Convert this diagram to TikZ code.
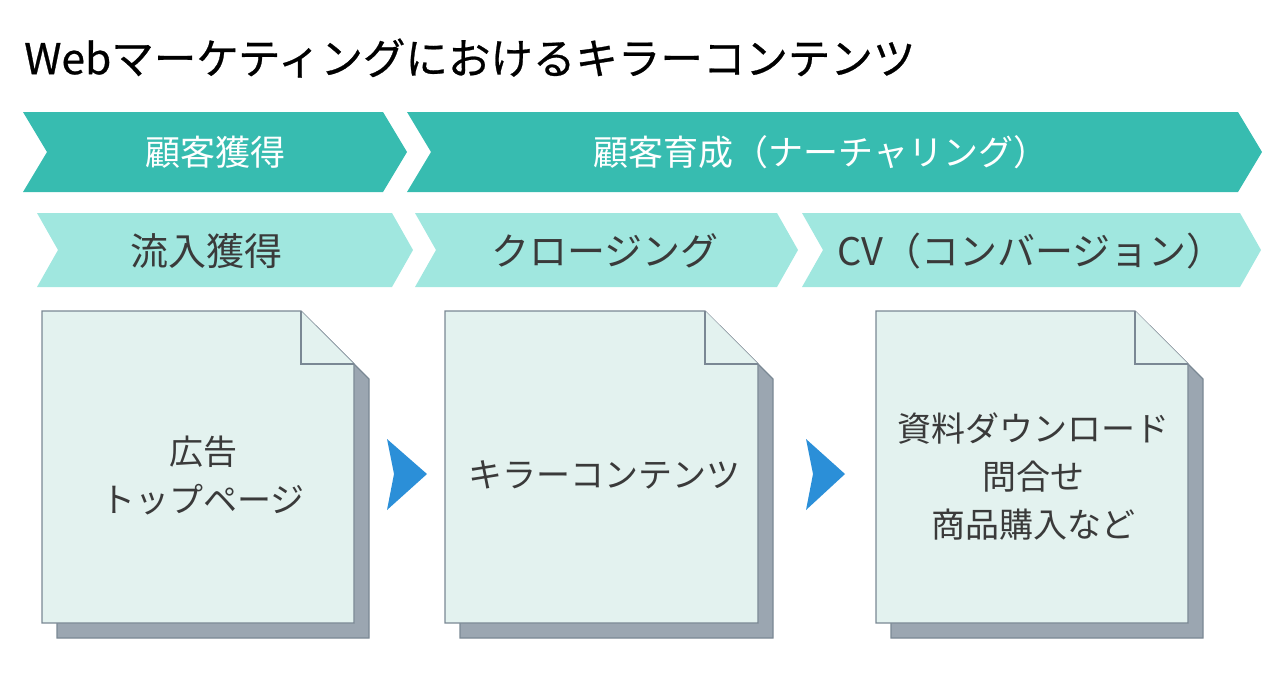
\documentclass[tikz,border=0pt]{standalone}
\usepackage{fontspec}
\newfontfamily\jp{Noto Sans CJK JP}
\newfontfamily\jpbold[FakeBold=0.6]{Noto Sans CJK JP}
\definecolor{darkteal}{HTML}{37BCB0}
\definecolor{lightteal}{HTML}{A0E7DF}
\definecolor{docfill}{HTML}{E3F2EF}
\definecolor{docline}{HTML}{7A8894}
\definecolor{shadowfill}{HTML}{9BA6B1}
\definecolor{arrowblue}{HTML}{2B8FD8}
\definecolor{txtgray}{HTML}{3A3A3A}
\tikzset{
  chevtop/.style={fill=darkteal},
  chevmid/.style={fill=lightteal},
  toplabel/.style={font=\jp\fontsize{35}{40}\selectfont, text=white, inner sep=0pt},
  midlabel/.style={font=\jp\fontsize{38}{44}\selectfont, text=txtgray, inner sep=0pt},
  doclabel/.style={font=\jp\fontsize{34}{48}\selectfont, text=txtgray, inner sep=0pt, align=center},
  docbody/.style={fill=docfill, draw=docline, line width=1.3pt, line join=miter},
  docshadow/.style={fill=shadowfill, draw=docline, line width=1.3pt},
  bluearrow/.style={fill=arrowblue}
}
\newcommand{\chevron}[6]{% style, x0, x1, top, bot, d
  \path[#1] (#2,#4) -- (#3,#4) -- ({#3+#6},{(#4+#5)/2}) -- (#3,#5) -- (#2,#5) -- ({#2+#6},{(#4+#5)/2}) -- cycle;}
\newcommand{\docshape}[3]{% style, left, right
  \path[#1] (#2,311) -- ({#3-53},311) -- (#3,364) -- (#3,623) -- (#2,623) -- cycle;}
\newcommand{\docfold}[1]{%
  \path[docbody] ({#1-53},311) -- ({#1-53},364) -- (#1,364);}
\begin{document}
\begin{tikzpicture}[x=1pt,y=-1pt]
\useasboundingbox (0,0) rectangle (1281,672);
% title
\node[anchor=west, inner sep=0pt, font=\jpbold\fontsize{42.5}{48}\selectfont] (title) at (24,58) {Webマーケティングにおけるキラーコンテンツ};
% top row
\chevron{chevtop}{23}{383}{112}{192}{24}
\chevron{chevtop}{407}{1238}{112}{192}{24}
\node[toplabel] (t1) at (215,152) {顧客獲得};
\node[toplabel] (t2) at (821,152) {顧客育成（ナーチャリング）};
% middle row
\chevron{chevmid}{37}{392}{213}{287}{21}
\chevron{chevmid}{415}{777}{213}{287}{21}
\chevron{chevmid}{802}{1240}{213}{287}{21}
\node[midlabel] (m1) at (206,251) {流入獲得};
\node[midlabel] (m2) at (605,251) {クロージング};
\node[midlabel] (m3) at (1031,251) {CV（コンバージョン）};
% documents
\foreach \l/\r in {42/354, 445/758, 876/1188}{
  \begin{scope}[shift={(15,15)}]
    \docshape{docshadow}{\l}{\r}
  \end{scope}
  \docshape{docbody}{\l}{\r}
  \docfold{\r}
}
\node[doclabel] (d1) at (203,475) {広告\\トップページ};
\node[doclabel] (d2) at (604,475) {キラーコンテンツ};
\node[doclabel] (d3) at (1033,476) {資料ダウンロード\\問合せ\\商品購入など};
% blue arrows
\path[bluearrow] (387,439) -- (427,474) -- (387,510) -- (394,474) -- cycle;
\path[bluearrow] (806,439) -- (845,474) -- (806,510) -- (813,474) -- cycle;
\end{tikzpicture}
\end{document}
